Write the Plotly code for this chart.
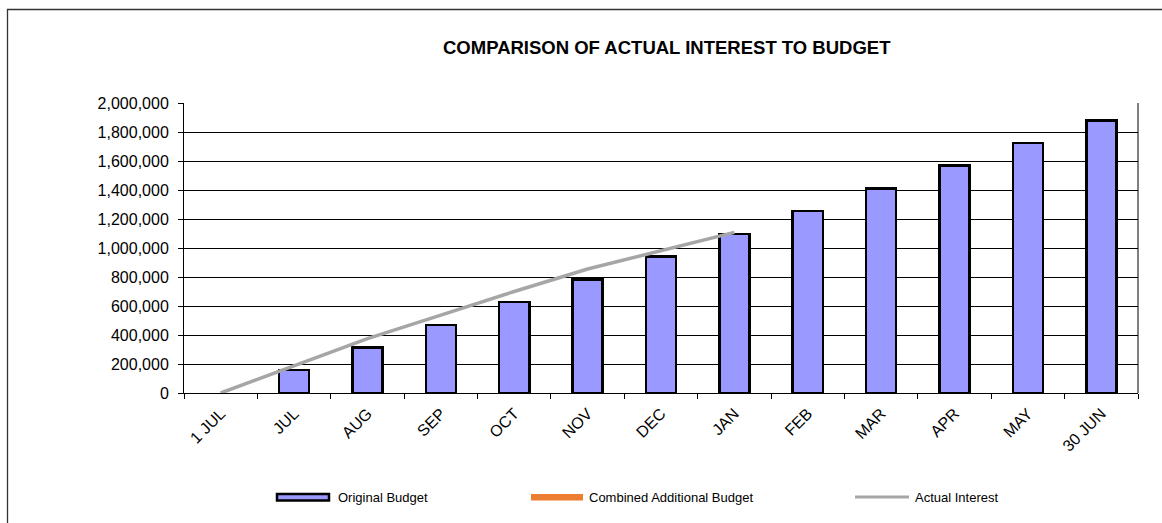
import plotly.graph_objects as go

# ---- data ----
categories = ["1 JUL", "JUL", "AUG", "SEP", "OCT", "NOV", "DEC", "JAN",
              "FEB", "MAR", "APR", "MAY", "30 JUN"]
original_budget = [None, 157000, 314000, 470000, 627000, 784000, 940000, 1097000,
                   1255000, 1410000, 1568000, 1724000, 1880000]
combined_additional = [0] * 13
actual_categories = categories[:8]
actual_interest = [0, 188000, 375000, 537000, 700000, 855000, 981000, 1108000]

FONT = "Liberation Sans, Arial, sans-serif"
BAR_FILL = "#9999FF"
LINE_GRAY = "#A6A6A6"
ORANGE = "#ED7D31"

fig = go.Figure()
fig.add_trace(go.Bar(x=categories, y=original_budget, name="Original Budget",
                     marker=dict(color=BAR_FILL, line=dict(color="black", width=2.5)),
                     showlegend=False))
fig.add_trace(go.Bar(x=categories, y=combined_additional, name="Combined Additional Budget",
                     marker=dict(color=ORANGE, line=dict(width=0)), showlegend=False))
fig.add_trace(go.Scatter(x=actual_categories, y=actual_interest, mode="lines",
                         name="Actual Interest", line=dict(color=LINE_GRAY, width=3.5),
                         showlegend=False))

W, H = 1162, 523
L, R, T, B = 184, 1138, 103, 393
pw, ph = R - L, B - T

def px(x):
    return (x - L) / pw

def py(y):
    return (B - y) / ph

shapes = [
    # outer chart border
    dict(type="rect", xref="paper", yref="paper", x0=px(7.5), x1=px(1170), y0=py(9.5), y1=py(540),
         line=dict(color="#333", width=1.3), fillcolor="rgba(0,0,0,0)", layer="below"),
    # plot area right border
    dict(type="line", xref="paper", yref="paper", x0=1, x1=1, y0=0, y1=1,
         line=dict(color="black", width=1)),
    # legend symbols
    dict(type="rect", xref="paper", yref="paper", x0=px(277), x1=px(329), y0=py(494), y1=py(500.5),
         line=dict(color="black", width=2.5), fillcolor=BAR_FILL),
    dict(type="rect", xref="paper", yref="paper", x0=px(531), x1=px(583), y0=py(494), y1=py(500.5),
         line=dict(width=0), fillcolor=ORANGE),
    dict(type="line", xref="paper", yref="paper", x0=px(855), x1=px(909), y0=py(497), y1=py(497),
         line=dict(color=LINE_GRAY, width=3)),
]

annotations = [
    dict(text="<b>COMPARISON OF ACTUAL INTEREST TO BUDGET</b>", xref="paper", yref="paper",
         x=px(667), y=py(47), xanchor="center", yanchor="middle", showarrow=False,
         font=dict(family=FONT, size=18.5, color="black")),
    dict(text="Original Budget", xref="paper", yref="paper", x=px(336), y=py(497),
         xanchor="left", yanchor="middle", showarrow=False, font=dict(family=FONT, size=13, color="black")),
    dict(text="Combined Additional Budget", xref="paper", yref="paper", x=px(587), y=py(497),
         xanchor="left", yanchor="middle", showarrow=False, font=dict(family=FONT, size=13, color="black")),
    dict(text="Actual Interest", xref="paper", yref="paper", x=px(913), y=py(497),
         xanchor="left", yanchor="middle", showarrow=False, font=dict(family=FONT, size=13, color="black")),
]

fig.update_layout(
    width=W, height=H,
    margin=dict(l=L, r=W - R, t=T, b=H - B, pad=0),
    paper_bgcolor="white", plot_bgcolor="white",
    barmode="stack", bargap=0.59,
    showlegend=False, hovermode=False,
    shapes=shapes, annotations=annotations,
    font=dict(family=FONT, color="black"),
)
fig.update_xaxes(
    type="category", range=[-0.5, 12.5], tickangle=-45,
    tickson="boundaries", ticks="outside", ticklen=5, tickcolor="black",
    showline=True, linecolor="black", linewidth=1, showgrid=False,
    tickfont=dict(family=FONT, size=16, color="black"), ticklabelstandoff=4,
)
fig.update_yaxes(
    range=[0, 2000000], dtick=200000, tickformat=",d",
    ticks="outside", ticklen=5, tickcolor="black",
    showline=True, linecolor="black", linewidth=1,
    showgrid=True, gridcolor="black", gridwidth=1, zeroline=False,
    tickfont=dict(family=FONT, size=16, color="black"), ticklabelstandoff=6,
)

fig.write_html("out.html", config={"displayModeBar": False, "staticPlot": True},
               post_script="document.body.style.margin='0';document.body.style.overflow='hidden';")
